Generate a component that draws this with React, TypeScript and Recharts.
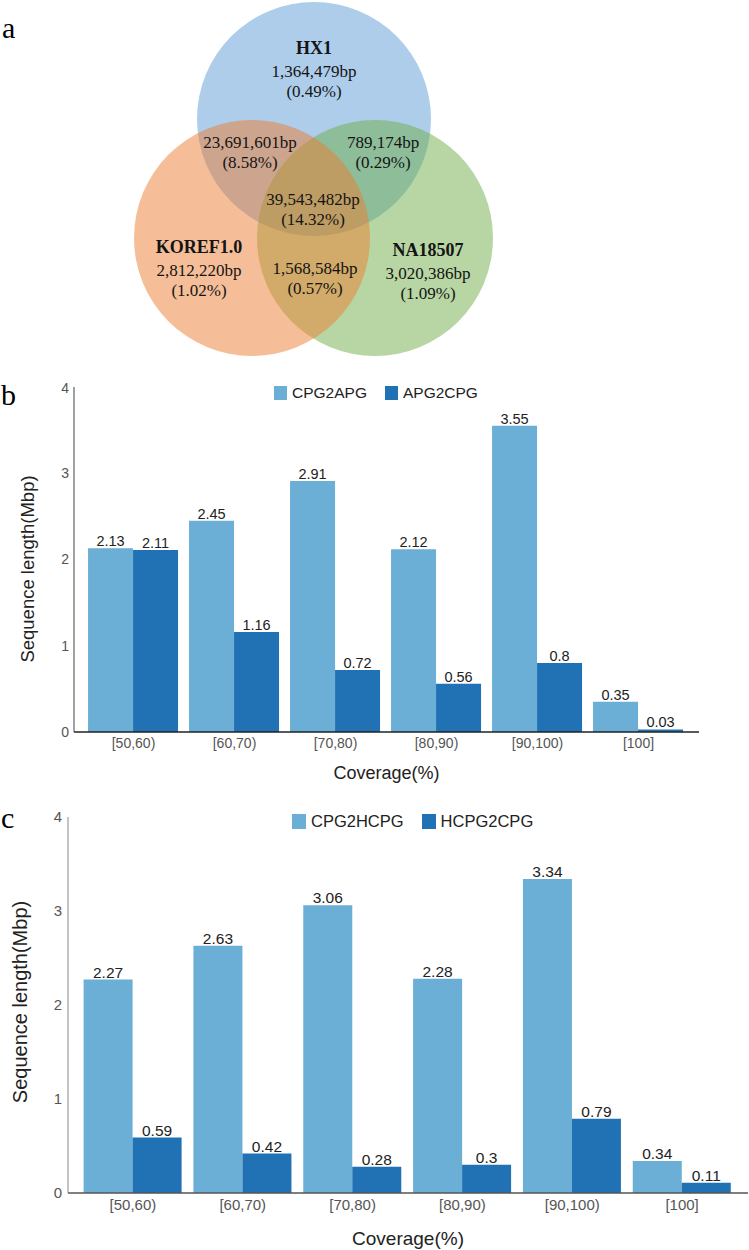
import React from 'react';
import {
  ScatterChart, Scatter, BarChart, Bar, XAxis, YAxis, LabelList, Legend,
} from 'recharts';

// ---------- Panel a: Venn data ----------
const vennSetNames = ['HX1', 'KOREF1.0', 'NA18507'];
const vennSetColors = ['#5b9bd5', '#ed7d31', '#70ad47'];
const vennRegionBp = ['1,364,479bp', '2,812,220bp', '3,020,386bp', '23,691,601bp', '789,174bp', '1,568,584bp', '39,543,482bp'];
const vennRegionPct = ['(0.49%)', '(1.02%)', '(1.09%)', '(8.58%)', '(0.29%)', '(0.57%)', '(14.32%)'];

// layout of the diagram (pixel space of the venn panel)
const vennCircleLayout = [
  { x: 314, y: 119, r: 117 }, // HX1
  { x: 252, y: 238, r: 118 }, // KOREF1.0
  { x: 375, y: 238, r: 118 }, // NA18507
];
const vennDrawOrder = [0, 2, 1];
const vennRegionAnchor = [
  { x: 314, y: 71 }, { x: 199, y: 270 }, { x: 428, y: 273 },
  { x: 250, y: 142 }, { x: 383, y: 142 }, { x: 315, y: 268 }, { x: 313, y: 199 },
];

// ---------- Panels b, c ----------
const categories = ['[50,60)', '[60,70)', '[70,80)', '[80,90)', '[90,100)', '[100]'];
const cpg2apg = [2.13, 2.45, 2.91, 2.12, 3.55, 0.35];
const apg2cpg = [2.11, 1.16, 0.72, 0.56, 0.8, 0.03];
const cpg2hcpg = [2.27, 2.63, 3.06, 2.28, 3.34, 0.34];
const hcpg2cpg = [0.59, 0.42, 0.28, 0.3, 0.79, 0.11];
const yTicks = [0, 1, 2, 3, 4];

const LIGHT = '#6baed6';
const DARK = '#2171b5';
const SANS = '"Liberation Sans", Arial, sans-serif';
const SERIF = '"Liberation Serif", "Times New Roman", serif';

const dataB = categories.map((c, i) => ({ cat: c, CPG2APG: cpg2apg[i], APG2CPG: apg2cpg[i] }));
const dataC = categories.map((c, i) => ({ cat: c, CPG2HCPG: cpg2hcpg[i], HCPG2CPG: hcpg2cpg[i] }));

const circleData = vennDrawOrder.map((i) => ({ ...vennCircleLayout[i], color: vennSetColors[i] }));
const textData: any[] = [];
vennRegionBp.forEach((bp, i) => {
  const a = vennRegionAnchor[i];
  if (i < 3) textData.push({ x: a.x, y: a.y - 23, text: vennSetNames[i], bold: true });
  textData.push({ x: a.x, y: a.y, text: bp, bold: false });
  textData.push({ x: a.x, y: a.y + 20, text: vennRegionPct[i], bold: false });
});

const CircleShape = (p: any) => (
  <circle cx={p.cx} cy={p.cy} r={p.payload.r} fill={p.payload.color} fillOpacity={0.5} />
);
const TextShape = (p: any) => (
  <text
    x={p.cx}
    y={p.cy}
    textAnchor="middle"
    dominantBaseline="central"
    fontFamily={SERIF}
    fontSize={p.payload.bold ? 18 : 17}
    fontWeight={p.payload.bold ? 'bold' : 'normal'}
    fill="#141414"
  >
    {p.payload.text}
  </text>
);

const makeLegend = (keys: string[], fontSize: number, sw: number, sh: number) => () => (
  <div style={{ display: 'flex', alignItems: 'center', fontFamily: SANS, fontSize, color: '#222', whiteSpace: 'nowrap', lineHeight: 1 }}>
    {keys.map((k, i) => (
      <div key={k} style={{ display: 'flex', alignItems: 'center', marginRight: 18 }}>
        <div style={{ width: sw, height: sh, background: i === 0 ? LIGHT : DARK, marginRight: 5 }} />
        <span>{k}</span>
      </div>
    ))}
  </div>
);

const yLabel = (dx: number, dy: number, fs: number) => (props: any) => {
  const vb = props.viewBox;
  const x = vb.x + dx;
  const y = vb.y + vb.height / 2 + dy;
  return (
    <text x={x} y={y} transform={`rotate(-90 ${x} ${y})`} textAnchor="middle" dominantBaseline="central"
      fontFamily={SANS} fontSize={fs} fill="#222">
      Sequence length(Mbp)
    </text>
  );
};
const xLabel = (dy: number, fs: number) => (props: any) => {
  const vb = props.viewBox;
  return (
    <text x={vb.x + vb.width / 2} y={vb.y + dy} textAnchor="middle" dominantBaseline="central"
      fontFamily={SANS} fontSize={fs} fill="#222">
      Coverage(%)
    </text>
  );
};

const letterStyle = (left: number, top: number): React.CSSProperties => ({
  position: 'absolute', left, top, fontFamily: SERIF,
  fontSize: 30, lineHeight: '30px', color: '#000',
});

export default function App() {
  return (
    <div style={{ position: 'absolute', left: 0, top: 0, width: 749, height: 1250, background: '#fff' }}>
      <div style={letterStyle(2, 13)}>a</div>
      <div style={letterStyle(1, 380)}>b</div>
      <div style={letterStyle(1, 803)}>c</div>

      <div style={{ position: 'absolute', left: 0, top: 0 }}>
        <ScatterChart width={749} height={380} margin={{ top: 0, right: 0, bottom: 0, left: 0 }}>
          <XAxis type="number" dataKey="x" domain={[0, 749]} hide allowDataOverflow />
          <YAxis type="number" dataKey="y" domain={[0, 380]} reversed hide allowDataOverflow />
          <Scatter data={circleData} shape={CircleShape} isAnimationActive={false} />
          <Scatter data={textData} shape={TextShape} isAnimationActive={false} />
        </ScatterChart>
      </div>

      <div style={{ position: 'absolute', left: 0, top: 380 }}>
        <BarChart width={749} height={410} data={dataB} margin={{ top: 7, right: 50, bottom: 0, left: 0 }}
          barGap={0} barCategoryGap="5%">
          <XAxis dataKey="cat" height={58} padding={{ left: 9, right: 10 }} tickLine={false} tickMargin={0}
            axisLine={{ stroke: '#222', strokeWidth: 1.5 }}
            tick={{ fontFamily: SANS, fontSize: 14, fill: '#555' }} label={xLabel(41, 18)} />
          <YAxis width={74} domain={[0, 4]} ticks={yTicks} tickLine={false} tickSize={2} tickMargin={3}
            axisLine={{ stroke: '#444' }} tick={{ fontFamily: SANS, fontSize: 14, fill: '#555' }}
            label={yLabel(27, 9.5, 18.5)} />
          <Legend layout="vertical" align="center" verticalAlign="middle"
            wrapperStyle={{ position: 'absolute', top: 5, left: 274, width: 'auto' }}
            content={makeLegend(['CPG2APG', 'APG2CPG'], 15.5, 13, 14)} />
          <Bar dataKey="CPG2APG" fill={LIGHT} isAnimationActive={false}>
            <LabelList dataKey="CPG2APG" position="top" offset={2} style={{ fontFamily: SANS, fontSize: 14.5, fill: '#222' }} />
          </Bar>
          <Bar dataKey="APG2CPG" fill={DARK} isAnimationActive={false}>
            <LabelList dataKey="APG2CPG" position="top" offset={2} style={{ fontFamily: SANS, fontSize: 14.5, fill: '#222' }} />
          </Bar>
        </BarChart>
      </div>

      <div style={{ position: 'absolute', left: 0, top: 800 }}>
        <BarChart width={749} height={450} data={dataC} margin={{ top: 17, right: 1, bottom: 0, left: 0 }}
          barGap={0} barCategoryGap="5.1%">
          <XAxis dataKey="cat" height={57} padding={{ left: 10, right: 11 }} tickLine={false} tickMargin={0}
            axisLine={{ stroke: '#555', strokeWidth: 1.5 }}
            tick={{ fontFamily: SANS, fontSize: 15, fill: '#555' }} label={xLabel(45, 19)} />
          <YAxis width={68} domain={[0, 4]} ticks={yTicks} tickLine={false} tickSize={2} tickMargin={4}
            axisLine={{ stroke: '#888' }} tick={{ fontFamily: SANS, fontSize: 15, fill: '#555' }}
            label={yLabel(20, -3, 20)} />
          <Legend layout="vertical" align="center" verticalAlign="middle"
            wrapperStyle={{ position: 'absolute', top: 13, left: 292, width: 'auto' }}
            content={makeLegend(['CPG2HCPG', 'HCPG2CPG'], 16.5, 14, 15)} />
          <Bar dataKey="CPG2HCPG" fill={LIGHT} isAnimationActive={false}>
            <LabelList dataKey="CPG2HCPG" position="top" offset={2} style={{ fontFamily: SANS, fontSize: 15.5, fill: '#222' }} />
          </Bar>
          <Bar dataKey="HCPG2CPG" fill={DARK} isAnimationActive={false}>
            <LabelList dataKey="HCPG2CPG" position="top" offset={2} style={{ fontFamily: SANS, fontSize: 15.5, fill: '#222' }} />
          </Bar>
        </BarChart>
      </div>
    </div>
  );
}
